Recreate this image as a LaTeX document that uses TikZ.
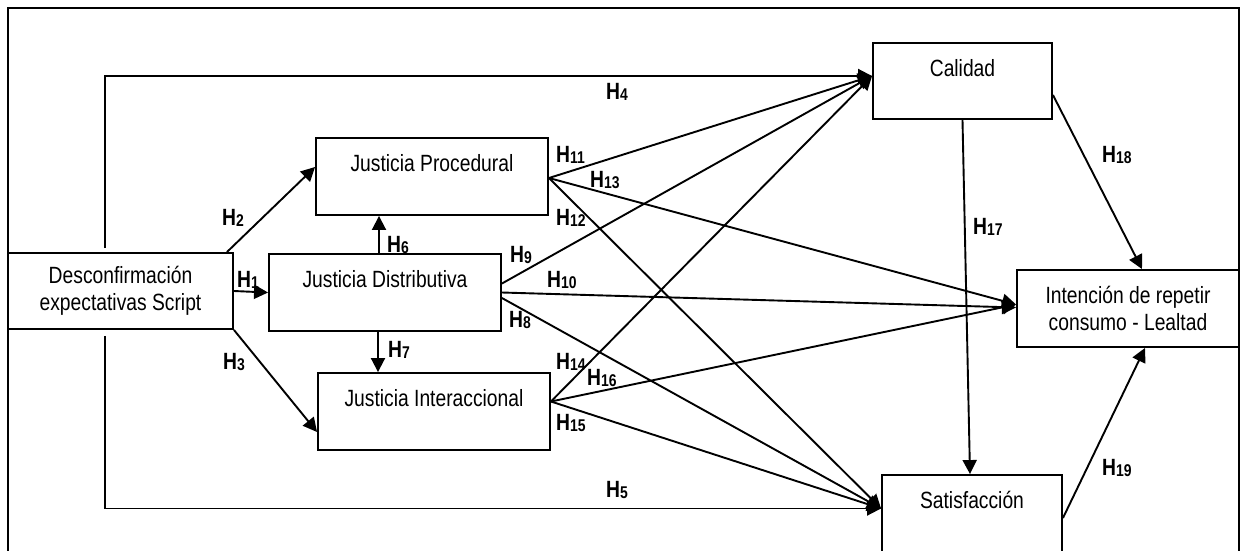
\documentclass[tikz,border=0pt]{standalone}
\usepackage{fontspec}
\setmainfont{Liberation Sans}[FakeStretch=0.82]
\usetikzlibrary{arrows.meta}
% hypothesis label: bold H with a lowered, smaller number
\newcommand\hyp[1]{\textbf{H\raisebox{-1.5pt}{\fontsize{17}{17}\selectfont #1}}}
\begin{document}
\begin{tikzpicture}[x=1pt,y=-1pt,
  box/.style={draw, line width=1.9pt, inner sep=0pt, align=center,
              font=\fontsize{23.5}{26.5}\selectfont},
  arr/.style={line width=1.9pt, -{Triangle[length=14pt,width=14pt]}},
  hl/.style={anchor=west, inner sep=0pt, font=\fontsize{23.5}{23.5}\selectfont}]
\useasboundingbox (0,0) rectangle (1245,550);
\clip (0,0) rectangle (1245,550);
\fill[white] (0,0) rectangle (1245,550);

% outer frame
\draw[line width=1.9pt] (8,560) -- (8,8) -- (1239,8) -- (1239,560);

% constructs
\node[box, minimum width=225pt, minimum height=76pt] (desc) at (120.5,291) {Desconfirmación\\expectativas Script};
\node[box, minimum width=232pt, minimum height=77pt] (proc) at (432,176.5) {Justicia Procedural\\\mbox{}};
\node[box, minimum width=232pt, minimum height=77pt] (dist) at (385,292.5) {Justicia Distributiva\\\mbox{}};
\node[box, minimum width=232pt, minimum height=77pt] (inter) at (434,411.5) {Justicia Interaccional\\\mbox{}};
\node[box, minimum width=179pt, minimum height=76pt] (cal) at (962.5,81) {Calidad\\\mbox{}};
\node[box, minimum width=222pt, minimum height=77pt] (int) at (1128,308.5) {Intención de repetir\\consumo - Lealtad};
\node[box, minimum width=180pt, minimum height=77pt] (sat) at (972,513.5) {Satisfacción\\\mbox{}};

% converging arrow tips
\coordinate (cin) at ([yshift=5pt]cal.west);
\coordinate (sin) at ([yshift=5pt]sat.west);

% from the disconfirmation construct
\draw[arr] ([xshift=-15.5pt,yshift=4pt]desc.north) |- (cin);
\draw[arr] ([xshift=-15.5pt,yshift=-6pt]desc.south) |- (sin);
\draw[arr] (desc.east) -- (dist.west);
\draw[arr] ([xshift=-7pt]desc.north east) -- ([yshift=9.5pt]proc.west);
\draw[arr] (desc.south east) -- ([yshift=-20.5pt]inter.west);

% between the justice dimensions
\draw[arr] ([xshift=-6pt]dist.north) -- ([xshift=-6pt]dist.north |- proc.south);
\draw[arr] ([xshift=-7pt]dist.south) -- ([xshift=-7pt]dist.south |- inter.north);

% procedural justice
\draw[arr] ([yshift=-1.5pt]proc.east) -- (cin);
\draw[arr] ([yshift=-1.5pt]proc.east) -- ([yshift=4pt]int.west);
\draw[arr] ([yshift=-1.5pt]proc.east) -- (sin);

% distributive justice
\draw[arr] ([yshift=9pt]dist.east) -- (cin);
\draw[arr] (dist.east) -- ([yshift=1pt]int.west);
\draw[arr] ([yshift=-5.5pt]dist.east) -- (sin);

% interactional justice
\draw[arr] ([yshift=10pt]inter.east) -- (cin);
\draw[arr] ([yshift=10pt]inter.east) -- ([yshift=4pt]int.west);
\draw[arr] ([yshift=10pt]inter.east) -- (sin);

% quality, satisfaction and loyalty
\draw[arr] (cal.south) -- ([xshift=-2pt]sat.north);
\draw[arr] ([yshift=-14pt]cal.east) -- ([xshift=14pt]int.north);
\draw[arr] ([yshift=-4.5pt]sat.east) -- ([xshift=17pt]int.south);

% hypothesis labels
\node[hl] (h1) at (237,280) {\hyp{1}};
\node[hl] (h2) at (222,218) {\hyp{2}};
\node[hl] (h3) at (223,362) {\hyp{3}};
\node[hl] (h4) at (606,92) {\hyp{4}};
\node[hl] (h5) at (606,490) {\hyp{5}};
\node[hl] (h6) at (387,245) {\hyp{6}};
\node[hl] (h7) at (388,350) {\hyp{7}};
\node[hl] (h8) at (509,320) {\hyp{8}};
\node[hl] (h9) at (510,255) {\hyp{9}};
\node[hl] (h10) at (547,280) {\hyp{10}};
\node[hl] (h11) at (556,155) {\hyp{11}};
\node[hl] (h12) at (556,218) {\hyp{12}};
\node[hl] (h13) at (590,180) {\hyp{13}};
\node[hl] (h14) at (556,362) {\hyp{14}};
\node[hl] (h15) at (556,423) {\hyp{15}};
\node[hl] (h16) at (587,378) {\hyp{16}};
\node[hl] (h17) at (973,227) {\hyp{17}};
\node[hl] (h18) at (1102,155) {\hyp{18}};
\node[hl] (h19) at (1102,468) {\hyp{19}};
\end{tikzpicture}
\end{document}
